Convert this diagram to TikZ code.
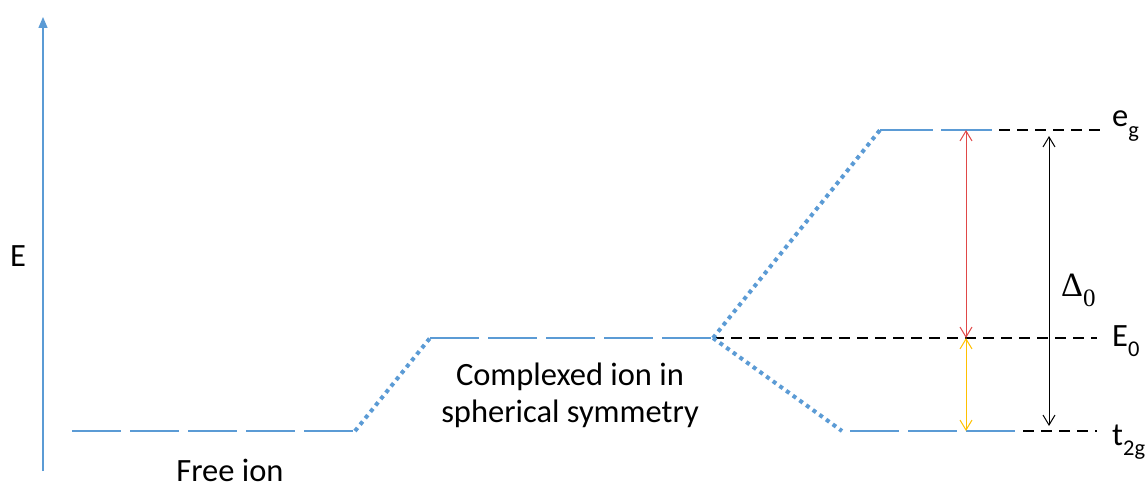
\documentclass[tikz,border=0pt]{standalone}
\usepackage{fontspec}
\setmainfont{Carlito}
\newfontfamily\serifx{Liberation Serif}
\usetikzlibrary{arrows.meta}
\definecolor{lvblue}{HTML}{5B9BD5}
\definecolor{lvred}{HTML}{E04848}
\definecolor{lvyellow}{HTML}{FFC000}
\newcommand{\subx}[1]{\raisebox{-0.33em}{\fontsize{22.5}{22.5}\selectfont #1}}
\tikzset{
  level/.style={draw=lvblue, line width=1.2pt, dash pattern=on 49pt off 9pt},
  blackdash/.style={draw=black, line width=2.8pt, dash pattern=on 11pt off 7pt},
  trans/.style={draw=lvblue, line width=4pt, dash pattern=on 4pt off 4.2pt},
  gap/.style={line width=1pt, {Straight Barb[length=10pt,width=12pt]}-{Straight Barb[length=10pt,width=12pt]}},
  lbl/.style={font=\fontsize{32.5}{39}\selectfont, inner sep=0pt, anchor=base west},
}
\begin{document}
\begin{tikzpicture}[x=1pt,y=-1pt]
\useasboundingbox (0,0) rectangle (1148,486);
% axis
\coordinate (ax0) at (43,471);
\coordinate (ax1) at (43,17);
\draw[lvblue, line width=1.5pt, -{Triangle[length=11pt,width=9pt]}] (ax0) -- (ax1);
\node[lbl] (E) at (10,267) {E};
% level coordinates
\coordinate (f0) at (72,431);  \coordinate (f1) at (355,431);
\coordinate (c0) at (430,338); \coordinate (c1) at (713,338);
\coordinate (e0) at (880,130); \coordinate (e1) at (992,130);
\coordinate (t0) at (850,431); \coordinate (t1) at (1015,431);
\coordinate (eb0) at (999,130); \coordinate (eb1) at (1100,130);
\coordinate (Eb1) at (1097,338);
\coordinate (tb0) at (1023,431); \coordinate (tb1) at (1097,431);
% black dashed references
\draw[blackdash] (c1) -- (Eb1);
\draw[blackdash] (eb0) -- (eb1);
\draw[blackdash] (tb0) -- (tb1);
% blue levels
\draw[level] (f0) -- (f1);
\draw[level] (c0) -- (c1);
\draw[level, dash pattern=on 53pt off 8pt] (e0) -- (e1);
\draw[level] (t0) -- (t1);
% transitions
\draw[trans] (f1) -- (c0);
\draw[trans] (c1) -- (e0);
\draw[trans] (c1) -- (842,431);
% splitting arrows
\coordinate (r0) at (966,130); \coordinate (r1) at (966,338);
\coordinate (y1) at (966,431);
\coordinate (k0) at (1049,136); \coordinate (k1) at (1049,426);
\draw[gap, lvred] (r0) -- (r1);
\draw[gap, lvyellow] (r1) -- (y1);
\draw[gap, black] (k0) -- (k1);
% labels
\node[lbl] (eg) at (1112,127) {e\subx{g}};
\node[lbl] (E0) at (1112,346) {E\subx{0}};
\node[lbl] (t2g) at (1112,445) {t\subx{2g}};
\node[lbl, font=\serifx\fontsize{34}{39}\selectfont] (D0) at (1061,297) {Δ\raisebox{-0.28em}{\fontsize{25}{25}\selectfont 0}};
\node[lbl, anchor=base] (free) at (230,481) {Free ion};
\node[lbl, anchor=base] (cx1) at (570,385) {Complexed ion in};
\node[lbl, anchor=base] (cx2) at (570,422) {spherical symmetry};
\end{tikzpicture}
\end{document}
